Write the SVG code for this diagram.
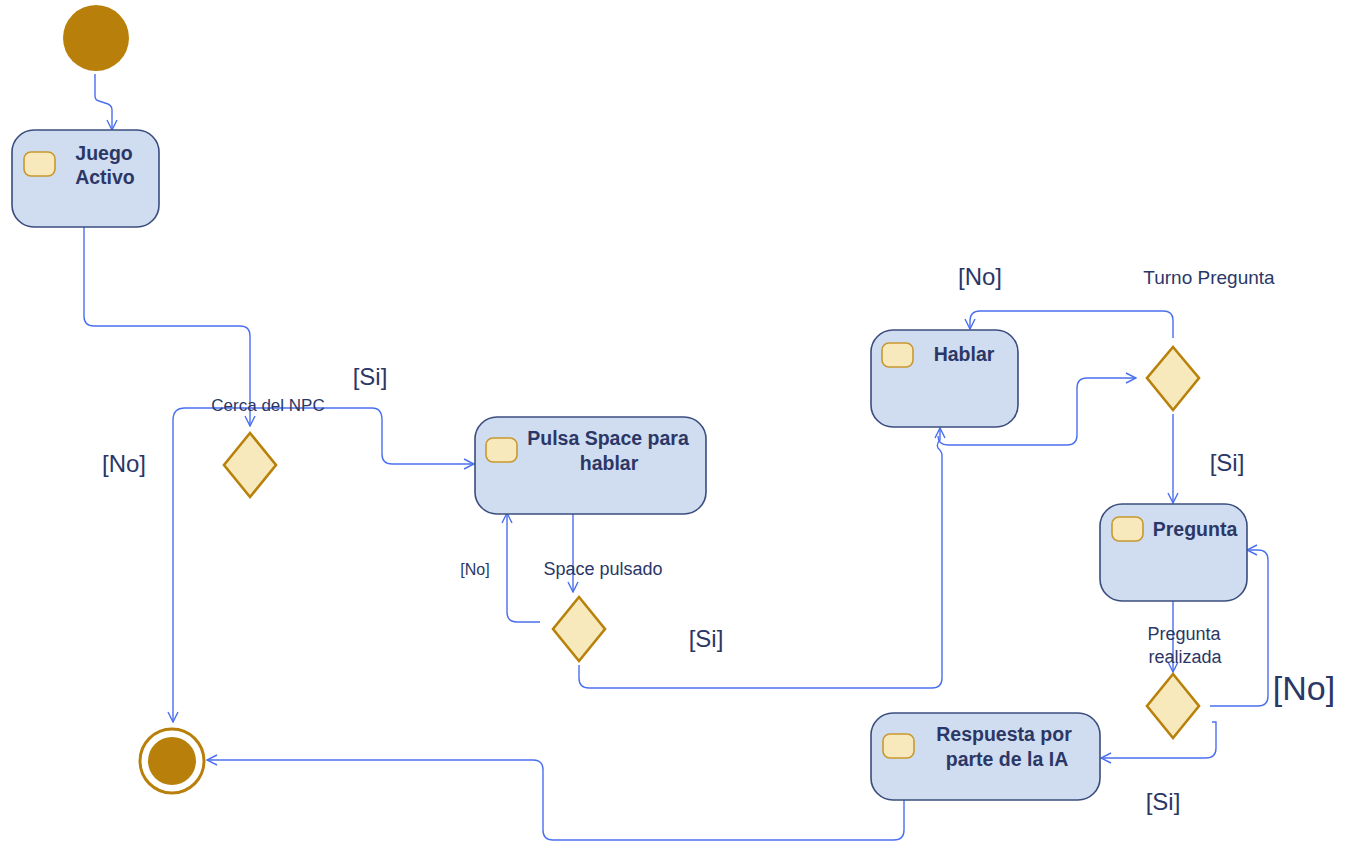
<svg xmlns="http://www.w3.org/2000/svg" width="1353" height="844" viewBox="0 0 1353 844">
<defs>
<marker id="arr" viewBox="0 0 12 12" refX="11" refY="6" markerWidth="12" markerHeight="12" markerUnits="userSpaceOnUse" orient="auto">
<path d="M1,1 L11,6 L1,11" fill="none" stroke="#4a6ff0" stroke-width="1.4"/>
</marker>
<style>
.act{fill:#d0dcef;stroke:#3a4d7e;stroke-width:1.6}
.ico{fill:#f8e9bd;stroke:#c8982e;stroke-width:1.6}
.dia{fill:#f8e9bd;stroke:#b8820a;stroke-width:2.6}
.t{font-family:"Liberation Sans",Arial,sans-serif;font-weight:bold;font-size:19.5px;fill:#2b3766;text-anchor:middle}
.l{font-family:"Liberation Sans",Arial,sans-serif;font-size:17px;fill:#2b3766;text-anchor:middle}
.g{font-family:"Liberation Sans",Arial,sans-serif;font-size:24px;fill:#2b3766;text-anchor:middle}
.c{fill:none;stroke:#4a6ff0;stroke-width:1.4;marker-end:url(#arr)}
</style>
</defs>
<rect width="1353" height="844" fill="#ffffff"/>
<g id="connectors">
<path class="c" d="M95,74 V96 Q95,100 99,101 L108,104 Q112,106 112,110 V130"/>
<path class="c" d="M84,227 V316 Q84,326 94,326 H240 Q250,326 250,336 V426"/>
<path class="c" d="M250,408 H185 Q173,408 173,420 V722"/>
<path class="c" d="M250,408 H372 Q382,408 382,420 V454 Q382,464 392,464 H474"/>
<path class="c" d="M573,514 V592"/>
<path class="c" d="M540,622 H517 Q507,622 507,612 V513"/>
<path class="c" d="M579,665 V678 Q579,688 589,688 H932 Q942,688 942,678 V455 Q942,452 938,448 Q936,444 940,440 V428"/>
<path class="c" d="M938,436 Q938,445 948,445 H1067 Q1077,445 1077,435 V388 Q1077,378 1087,378 H1136"/>
<path class="c" d="M1173,338 V320 Q1173,311 1163,311 H980 Q970,311 970,321 V329"/>
<path class="c" d="M1173,414 V503"/>
<path class="c" d="M1173,600 V672"/>
<path class="c" d="M1210,706 H1258 Q1268,706 1268,696 V560 Q1268,550 1258,550 H1247"/>
<path class="c" d="M1212,722 H1216 V748 Q1216,758 1206,758 H1101"/>
<path class="c" d="M904,800 V830 Q904,840 894,840 H553 Q543,840 543,830 V770 Q543,760 533,760 H207"/>
</g>
<g id="start"><circle cx="96" cy="38" r="33" fill="#b8800a"/></g>
<g id="juego-activo">
<rect class="act" x="12" y="130" width="147" height="97" rx="22"/>
<rect class="ico" x="24" y="152" width="31" height="24" rx="7"/>
<text class="t" x="104" y="160">Juego</text>
<text class="t" x="105" y="184">Activo</text>
</g>
<g id="decision-npc">
<polygon class="dia" points="250,433 276,465 250,497 224,465"/>
<text class="l" x="268" y="411">Cerca del NPC</text>
<text class="g" x="370" y="385">[Si]</text>
<text class="g" x="124" y="472">[No]</text>
</g>
<g id="pulsa-space">
<rect class="act" x="475" y="417" width="231" height="97" rx="22"/>
<rect class="ico" x="486" y="438" width="31" height="24" rx="7"/>
<text class="t" x="608" y="445">Pulsa Space para</text>
<text class="t" x="609" y="470">hablar</text>
</g>
<g id="decision-space">
<polygon class="dia" points="579,597 605,629 579,661 553,629"/>
<text class="l" x="603" y="575" style="font-size:18px">Space pulsado</text>
<text class="l" x="475" y="575" style="font-size:16px">[No]</text>
<text class="g" x="706" y="647">[Si]</text>
</g>
<g id="hablar">
<rect class="act" x="871" y="330" width="147" height="97" rx="22"/>
<rect class="ico" x="882" y="343" width="31" height="24" rx="7"/>
<text class="t" x="964" y="361">Hablar</text>
</g>
<g id="decision-turno">
<polygon class="dia" points="1173,347 1199,378 1173,410 1147,378"/>
<text class="g" x="980" y="285">[No]</text>
<text class="l" x="1209" y="284" style="font-size:19px">Turno Pregunta</text>
<text class="g" x="1227" y="471">[Si]</text>
</g>
<g id="pregunta">
<rect class="act" x="1100" y="504" width="147" height="97" rx="22"/>
<rect class="ico" x="1112" y="517" width="31" height="24" rx="7"/>
<text class="t" x="1195" y="536">Pregunta</text>
</g>
<g id="decision-pregunta">
<polygon class="dia" points="1173,674 1199,706 1173,738 1147,706"/>
<text class="l" x="1184" y="640" style="font-size:18px">Pregunta</text>
<text class="l" x="1185" y="663" style="font-size:18px">realizada</text>
<text class="g" x="1304" y="700" style="font-size:34px">[No]</text>
<text class="g" x="1163" y="810">[Si]</text>
</g>
<g id="respuesta">
<rect class="act" x="871" y="713" width="229" height="87" rx="22"/>
<rect class="ico" x="883" y="734" width="31" height="24" rx="7"/>
<text class="t" x="1004" y="741">Respuesta por</text>
<text class="t" x="1007" y="766">parte de la IA</text>
</g>
<g id="end">
<circle cx="172" cy="761" r="32" fill="#ffffff" stroke="#b8800a" stroke-width="3"/>
<circle cx="172" cy="761" r="24" fill="#b8800a"/>
</g>
</svg>
